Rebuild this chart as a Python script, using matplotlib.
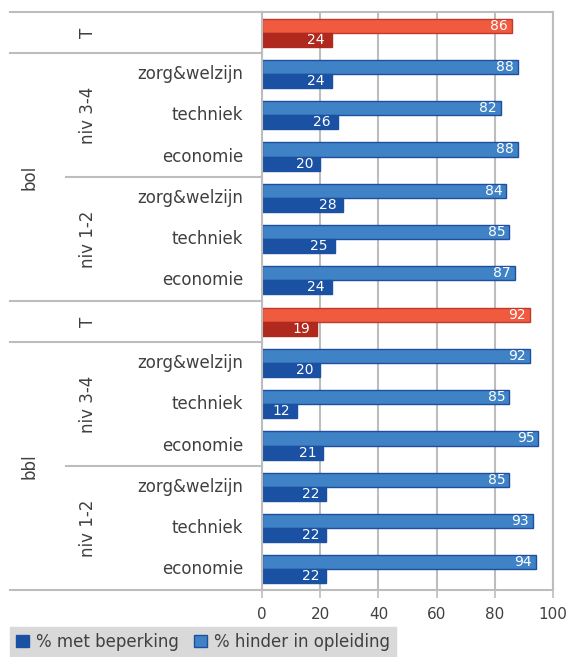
import numpy as np
import matplotlib.pyplot as plt
import matplotlib.transforms as mtransforms
from matplotlib.patches import Patch

# rows top to bottom
categories = ['T', 'zorg&welzijn', 'techniek', 'economie', 'zorg&welzijn', 'techniek', 'economie',
              'T', 'zorg&welzijn', 'techniek', 'economie', 'zorg&welzijn', 'techniek', 'economie']
hinder = [86, 88, 82, 88, 84, 85, 87, 92, 92, 85, 95, 85, 93, 94]
beperking = [24, 24, 26, 20, 28, 25, 24, 19, 20, 12, 21, 22, 22, 22]
total_rows = [0, 7]

# group labels: (text, first row, last row)
level_groups = [('niv 3-4', 1, 3), ('niv 1-2', 4, 6), ('niv 3-4', 8, 10), ('niv 1-2', 11, 13)]
type_groups = [('bol', 1, 6), ('bbl', 8, 13)]

light_blue = '#3f83c6'
dark_blue = '#1a51a3'
light_red = '#f05a3e'
dark_red = '#b0291f'
txt = '#404040'
line_c = '#bdbdbd'

fig = plt.figure(figsize=(5.68, 6.57), dpi=100)
ax = fig.add_axes([262 / 568, 1 - 590 / 657, 291 / 568, 578 / 657])

y = np.arange(len(categories))
h = 0.34
for i in y:
    is_t = i in total_rows
    c1 = light_red if is_t else light_blue
    c2 = dark_red if is_t else dark_blue
    ec = '#c0392b' if is_t else '#1f4e9f'
    ax.barh(i - h / 2, hinder[i], height=h, color=c1, edgecolor=ec, linewidth=1)
    ax.barh(i + h / 2, beperking[i], height=h, color=c2, edgecolor=c2, linewidth=1)
    ax.annotate(str(hinder[i]), (hinder[i], i - h / 2), xytext=(-3, 0), textcoords='offset points',
                ha='right', va='center', color='white', fontsize=10)
    ax.annotate(str(beperking[i]), (beperking[i], i + h / 2), xytext=(-5, 0), textcoords='offset points',
                ha='right', va='center', color='white', fontsize=10)

ax.set_xlim(0, 100)
ax.set_ylim(13.5, -0.5)
ax.set_xticks([0, 20, 40, 60, 80, 100])
ax.set_yticks([])
ax.tick_params(axis='x', colors=line_c, length=6, width=1.2, labelcolor=txt, labelsize=11, pad=6)
ax.grid(axis='x', color=line_c, linewidth=1.5)
ax.set_axisbelow(True)
for s in ax.spines.values():
    s.set_color(line_c)
    s.set_linewidth(1.5)

trans = mtransforms.blended_transform_factory(ax.transAxes, ax.transData)
outer_x = (10 - 262) / 291
inner_x = (66 - 262) / 291

# category labels
for i, c in enumerate(categories):
    if c == 'T':
        ax.text((88 - 262) / 291, i, c, transform=trans, rotation=90, ha='center', va='center',
                color=txt, fontsize=12)
    else:
        ax.text((243 - 262) / 291, i, c, transform=trans, ha='right', va='center',
                color=txt, fontsize=12)

for lab, a, b in level_groups:
    ax.text((88 - 262) / 291, (a + b) / 2, lab, transform=trans, rotation=90, ha='center',
            va='center', color=txt, fontsize=12)
for lab, a, b in type_groups:
    ax.text((30 - 262) / 291, (a + b) / 2, lab, transform=trans, rotation=90, ha='center',
            va='center', color=txt, fontsize=12)

# separator lines in the label area
for yy in [-0.5, 0.5, 6.5, 7.5, 13.5]:
    ax.plot([outer_x, 0], [yy, yy], transform=trans, color=line_c, linewidth=1.5, clip_on=False)
for yy in [3.5, 10.5]:
    ax.plot([inner_x, 0], [yy, yy], transform=trans, color=line_c, linewidth=1.5, clip_on=False)

handles = [Patch(facecolor=dark_blue, edgecolor=dark_blue, label='% met beperking'),
           Patch(facecolor=light_blue, edgecolor='#1f4e9f', label='% hinder in opleiding')]
leg = fig.legend(handles=handles, loc='upper left', bbox_to_anchor=(10 / 568, 1 - 627 / 657), ncol=2,
                 frameon=True, fancybox=False, facecolor='#d9d9d9', edgecolor='#d9d9d9',
                 fontsize=12, handlelength=0.8, handleheight=0.8, handletextpad=0.4,
                 columnspacing=0.9, borderpad=0.35, borderaxespad=0, labelcolor=txt, framealpha=1)

fig.savefig('out.png', dpi=100)
